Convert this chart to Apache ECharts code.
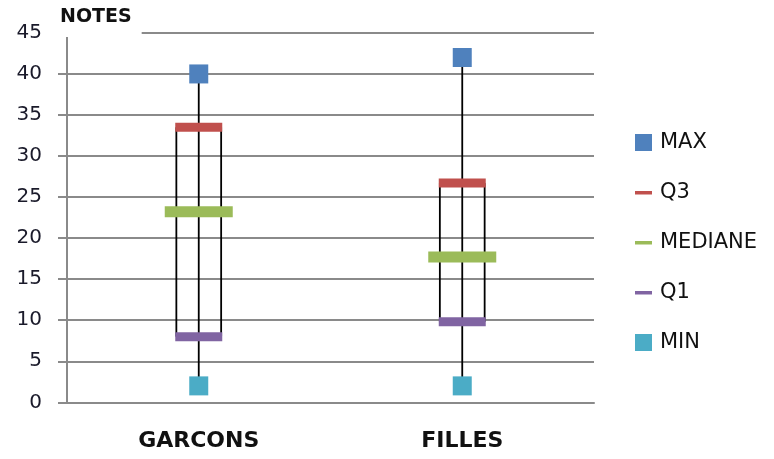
<!DOCTYPE html>
<html>
<head>
<meta charset="utf-8">
<script src="https://cdn.jsdelivr.net/npm/echarts@6/dist/echarts.min.js"></script>
<style>
html,body{margin:0;padding:0;background:#fff;}
#c{width:774px;height:459px;}
</style>
</head>
<body>
<div id="c"></div>
<script>
var categories = ['GARCONS', 'FILLES'];
var maxVals = [40, 42];
var q3Vals = [33.5, 26.7];
var medVals = [23.2, 17.7];
var q1Vals = [8.0, 9.8];
var minVals = [2, 2];
var yTicks = [0, 5, 10, 15, 20, 25, 30, 35, 40, 45];

var colors = {
  MAX: '#4F81BD', Q3: '#C0504D', MEDIANE: '#9BBB59', Q1: '#8064A2', MIN: '#4BACC6'
};
var lineIcon = 'path://M0,0M17,17M0,7h17v3.5h-17z';

var chart = echarts.init(document.getElementById('c'), null, {renderer: 'canvas'});
var gray = '#8a8a8a';
var option = {
  animation: false,
  backgroundColor: '#fff',
  title: {
    text: 'NOTES',
    left: 50, top: 0,
    padding: [8, 10, 10, 10],
    backgroundColor: '#fff',
    textStyle: {fontFamily: 'DejaVu Sans', fontWeight: 'bold', fontSize: 19, color: '#111'}
  },
  legend: {
    orient: 'vertical',
    left: 630, top: 127,
    itemWidth: 17, itemHeight: 17, itemGap: 29,
    textStyle: {fontFamily: 'DejaVu Sans', fontSize: 21, color: '#111', padding: [0, 0, 0, 3]},
    data: [
      {name: 'MAX', icon: 'rect'},
      {name: 'Q3', icon: lineIcon},
      {name: 'MEDIANE', icon: lineIcon},
      {name: 'Q1', icon: lineIcon},
      {name: 'MIN', icon: 'rect'}
    ]
  },
  grid: {left: 67, right: 180, top: 32.9, bottom: 56.7},
  xAxis: {
    type: 'category',
    data: categories,
    boundaryGap: true,
    axisLine: {lineStyle: {color: gray, width: 2}},
    axisTick: {length: 10, lineStyle: {color: gray, width: 2}},
    axisLabel: {margin: 28, fontFamily: 'DejaVu Sans', fontWeight: 'bold', fontSize: 22, color: '#111'}
  },
  yAxis: {
    type: 'value',
    min: yTicks[0], max: yTicks[yTicks.length - 1], interval: 5,
    axisLine: {show: true, lineStyle: {color: gray, width: 2}},
    axisTick: {show: true, length: 9, lineStyle: {color: gray, width: 2}},
    axisLabel: {margin: 25, fontFamily: 'DejaVu Sans', fontSize: 20, color: '#1a1a2a'},
    splitLine: {lineStyle: {color: gray, width: 2}}
  },
  series: [
    {
      type: 'custom',
      name: 'lines',
      z: 1,
      data: categories.map(function (c, i) { return [i, maxVals[i], minVals[i], q3Vals[i], q1Vals[i]]; }),
      encode: {x: 0, y: [1, 2, 3, 4]},
      renderItem: function (params, api) {
        var x = api.value(0);
        var pMax = api.coord([x, api.value(1)]);
        var pMin = api.coord([x, api.value(2)]);
        var pQ3 = api.coord([x, api.value(3)]);
        var pQ1 = api.coord([x, api.value(4)]);
        var bw = api.size([1, 0])[0];
        var off = bw * 0.085;
        var st = {stroke: '#000', lineWidth: 1.8};
        return {
          type: 'group',
          children: [
            {type: 'line', shape: {x1: pMax[0], y1: pMax[1], x2: pMin[0], y2: pMin[1]}, style: st},
            {type: 'line', shape: {x1: pQ3[0] - off, y1: pQ3[1], x2: pQ1[0] - off, y2: pQ1[1]}, style: st},
            {type: 'line', shape: {x1: pQ3[0] + off, y1: pQ3[1], x2: pQ1[0] + off, y2: pQ1[1]}, style: st}
          ]
        };
      }
    },
    {name: 'MAX', type: 'scatter', z: 3, symbol: 'rect', symbolSize: 19, data: maxVals, itemStyle: {color: colors.MAX, opacity: 1}},
    {name: 'Q3', type: 'scatter', z: 3, symbol: 'rect', symbolSize: [47, 9], data: q3Vals, itemStyle: {color: colors.Q3, opacity: 1}},
    {name: 'MEDIANE', type: 'scatter', z: 3, symbol: 'rect', symbolSize: [68, 11], data: medVals, itemStyle: {color: colors.MEDIANE, opacity: 1}},
    {name: 'Q1', type: 'scatter', z: 3, symbol: 'rect', symbolSize: [47, 9], data: q1Vals, itemStyle: {color: colors.Q1, opacity: 1}},
    {name: 'MIN', type: 'scatter', z: 3, symbol: 'rect', symbolSize: 19, data: minVals, itemStyle: {color: colors.MIN, opacity: 1}}
  ]
};
chart.setOption(option);
</script>
</body>
</html>
